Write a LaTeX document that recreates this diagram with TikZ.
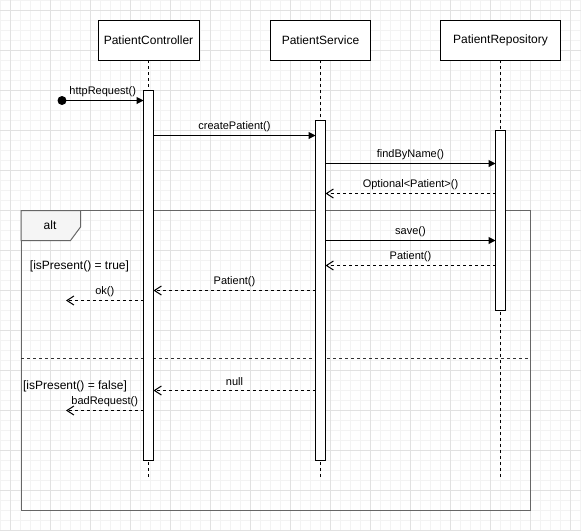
\documentclass[tikz,border=0pt]{standalone}
\usepackage{fontspec}
\setmainfont{Liberation Sans}
\usetikzlibrary{arrows.meta}
\definecolor{gridminor}{HTML}{F3F3F3}
\definecolor{gridmajor}{HTML}{E1E1E1}
\definecolor{framegray}{HTML}{666666}
\definecolor{tabfill}{HTML}{F5F5F5}
\tikzset{
  participant/.style={draw, line width=1pt, fill=white, minimum height=40pt,
    inner sep=0pt, outer sep=0pt, font=\fontsize{12}{14}\selectfont},
  actbar/.style={draw, line width=1pt, fill=white, minimum width=10pt,
    inner sep=0pt, outer sep=0pt},
  lifeline/.style={line width=1pt, dash pattern=on 3pt off 3pt},
  call/.style={line width=1pt, -{Triangle[length=7pt,width=7pt]}},
  reply/.style={line width=1pt, dash pattern=on 3pt off 3pt,
    -{Straight Barb[length=7pt,width=9pt,line width=1pt]}},
  msg/.style={font=\fontsize{11}{13}\selectfont, inner sep=0pt, yshift=9pt},
  guard/.style={font=\fontsize{12}{14}\selectfont, inner sep=0pt}
}
\begin{document}
\begin{tikzpicture}[x=1pt,y=-1pt]
\useasboundingbox (0,0) rectangle (581,531);
\fill[white] (0,0) rectangle (581,531);

% background grid
\foreach \i in {0,10,...,580}
  \draw[gridminor, line width=1pt] (\i+0.5,0) -- (\i+0.5,531);
\foreach \i in {0,10,...,530}
  \draw[gridminor, line width=1pt] (0,\i+0.5) -- (581,\i+0.5);
\foreach \i in {10,50,...,570}
  \draw[gridmajor, line width=1pt] (\i+0.5,0) -- (\i+0.5,531);
\foreach \i in {10,50,...,530}
  \draw[gridmajor, line width=1pt] (0,\i+0.5) -- (581,\i+0.5);

% alt combined fragment
\draw[framegray, line width=1pt] (21,210.5) rectangle (530,510.5);
\draw[framegray, line width=1pt, fill=tabfill]
  (21,210.5) -- (80.5,210.5) -- (80.5,227) -- (70.5,240.5) -- (21,240.5) -- cycle;
\node[guard] (alt) at (50,225) {alt};
\draw[black!80, line width=1pt, dash pattern=on 3pt off 3pt] (21,358.5) -- (530,358.5);

% participants
\node[participant, minimum width=101pt] (pc) at (148.5,40) {PatientController};
\node[participant, minimum width=100pt] (ps) at (320.5,40) {PatientService};
\node[participant, minimum width=120pt] (pr) at (500.5,40) {PatientRepository};

% lifelines
\coordinate (endA) at (148.5,477);
\coordinate (endB) at (320.5,477);
\coordinate (endC) at (500.5,477);
\draw[lifeline] (pc.south) -- (endA);
\draw[lifeline] (ps.south) -- (endB);
\draw[lifeline] (pr.south) -- (endC);

% activation bars
\node[actbar, minimum height=370pt] (acA) at (148.5,275.5) {};
\node[actbar, minimum height=340pt] (acB) at (320.5,290.5) {};
\node[actbar, minimum height=180pt] (acC) at (500.5,220.5) {};

% guards
\node[guard] (g1) at (79.5,266) {[isPresent() = true]};
\node[guard] (g2) at (75,386) {[isPresent() = false]};

% message rows
\coordinate (start) at (62,100.5);
\coordinate (y1) at (0,135.5);
\coordinate (y2) at (0,163.5);
\coordinate (y3) at (0,193.5);
\coordinate (y4) at (0,240.5);
\coordinate (y5) at (0,265.5);
\coordinate (y6) at (0,290.5);
\coordinate (okEnd) at (66,300.5);
\coordinate (y7) at (0,390.5);
\coordinate (badEnd) at (66,410.5);

\fill (start) circle (4.5pt);
\draw[call] (start) -- node[msg] {httpRequest()} (acA.west |- start);
\draw[call] (acA.east |- y1) -- node[msg] {createPatient()} (acB.west |- y1);
\draw[call] (acB.east |- y2) -- node[msg] {findByName()} (acC.west |- y2);
\draw[reply] (acC.west |- y3) -- node[msg] {Optional<Patient>()} (acB.east |- y3);
\draw[call] (acB.east |- y4) -- node[msg] {save()} (acC.west |- y4);
\draw[reply] (acC.west |- y5) -- node[msg] {Patient()} (acB.east |- y5);
\draw[reply] (acB.west |- y6) -- node[msg] {Patient()} (acA.east |- y6);
\draw[reply] (acA.west |- okEnd) -- node[msg] {ok()} (okEnd);
\draw[reply] (acB.west |- y7) -- node[msg] {null} (acA.east |- y7);
\draw[reply] (acA.west |- badEnd) -- node[msg] {badRequest()} (badEnd);
\end{tikzpicture}
\end{document}
